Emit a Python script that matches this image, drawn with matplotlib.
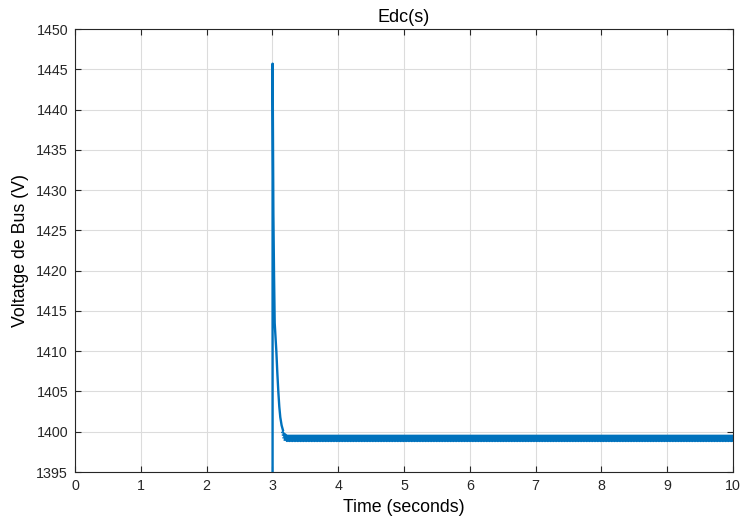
import matplotlib.pyplot as plt

# Edc(s) signal
t_decay = [0.0, 3.000, 3.003, 3.008, 3.015, 3.025, 3.035, 3.060, 3.075, 3.090,
           3.105, 3.120, 3.140, 3.160]
v_decay = [0.0, 0.0, 1445.7, 1438.0, 1427.0, 1419.5, 1413.5, 1410.0, 1407.3, 1405.0,
           1403.1, 1401.8, 1400.8, 1400.2]

# ripple band in steady state (upper / lower envelope)
t_band = [3.14, 3.17, 3.22, 10.0]
v_band_hi = [1400.8, 1400.0, 1399.7, 1399.7]
v_band_lo = [1400.0, 1399.0, 1398.8, 1398.8]

xticks = list(range(0, 11))
yticks = list(range(1395, 1451, 5))

plt.rcParams['font.family'] = ['Liberation Sans', 'DejaVu Sans']
blue = '#0072BD'
dark = '#262626'

fig = plt.figure(figsize=(7.4, 5.23), dpi=100)
ax = fig.add_axes([0.1014, 0.0975, 0.889, 0.847])

ax.plot(t_decay, v_decay, color=blue, linewidth=1.7)
ax.fill_between(t_band, v_band_lo, v_band_hi, color=blue, linewidth=0)
ax.plot(t_band, v_band_lo, color=blue, linewidth=1.0, linestyle=(0, (1, 1)))

ax.set_xlim(0, 10)
ax.set_ylim(1395, 1450)
ax.set_xticks(xticks)
ax.set_yticks(yticks)
ax.grid(True, color='#DCDCDC', linewidth=0.8)
ax.set_axisbelow(True)

ax.tick_params(direction='in', length=4, width=0.8, colors=dark,
               labelsize=10.3, top=True, right=True, pad=5)
for s in ax.spines.values():
    s.set_color(dark)
    s.set_linewidth(0.8)

ax.set_title('Edc(s)', fontsize=13, color='black', pad=5)
ax.set_xlabel('Time (seconds)', fontsize=12.8, color='black', labelpad=4)
ax.set_ylabel('Voltatge de Bus (V)', fontsize=12.8, color='black', labelpad=5)

plt.savefig('out.png', dpi=100)
